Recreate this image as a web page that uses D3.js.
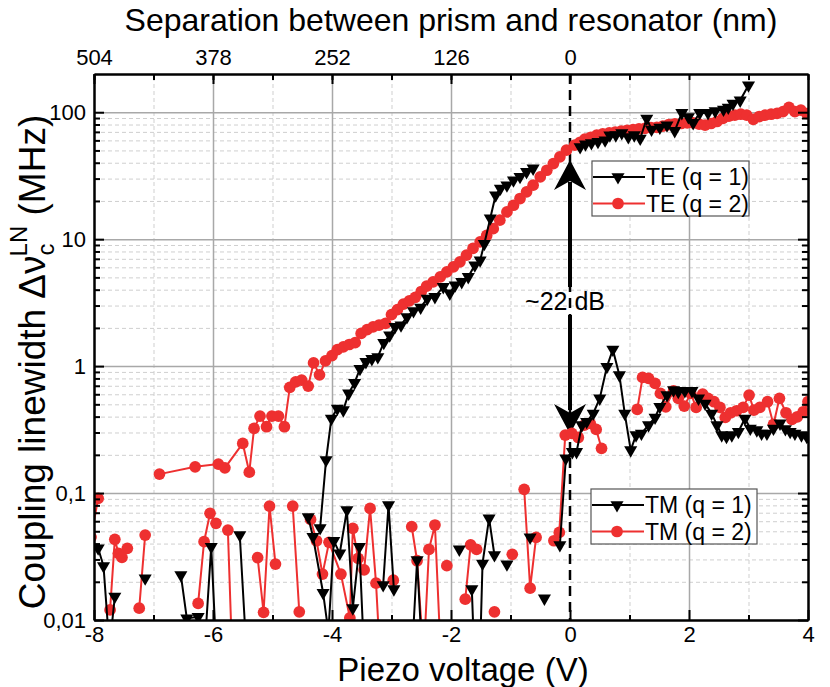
<!DOCTYPE html>
<html><head><meta charset="utf-8">
<script src="https://cdn.jsdelivr.net/npm/d3@7"></script>
<style>
body{margin:0;background:#fff;}
text{font-family:"Liberation Sans",Arial,sans-serif;}
</style></head>
<body><svg id="chart" width="830" height="687"></svg>
<script>
// ---------- data ----------
const xTicks = [-8,-6,-4,-2,0,2,4];
const xTickLabels = ["-8","-6","-4","-2","0","2","4"];
const topTickPos = [-8,-6,-4,-2,0];
const topTickLabels = ["504","378","252","126","0"];
const yTicks = [0.01,0.1,1,10,100];
const yTickLabels = ["0,01","0,1","1","10","100"];

// TE (q = 1): black triangles (null = gap)
const te1X = [-4.20,-4.10,-4.01,-3.91,-3.81,-3.72,-3.62,-3.53,-3.43,-3.33,-3.23,-3.13,-3.03,-2.94,-2.84,-2.74,-2.63,-2.51,-2.40,-2.27,-2.13,-2.02,-1.93,-1.82,-1.71,-1.60,-1.51,-1.44,-1.34,-1.25,-1.17,-1.06,-0.95,-0.84,-0.73,-0.62,null,
  0.17,0.26,0.36,0.47,0.59,0.67,0.77,0.87,0.98,1.08,1.18,1.29,1.37,1.51,1.63,1.76,1.88,1.99,2.07,2.18,2.32,2.44,2.58,2.66,2.74,2.86,3.00];
const te1Y = [0.053,0.182,0.387,0.464,0.45,0.61,0.74,0.953,1.08,1.14,1.18,1.53,1.75,2.04,2.1,2.44,2.72,2.9,3.4,3.51,4.21,3.74,4.34,4.61,5.05,6.24,6.83,9.2,14.6,22.2,25.1,26.6,29.1,31,33.9,36.1,null,
  53.3,56,57.3,58.5,60.2,65.9,66,68.7,63.9,66,62.1,89.2,73.1,75.7,79.0,71.3,98.8,91.8,82.4,98.8,98.8,102,105,109,117,124,163];

// TE (q = 2): red circles
const te2X = [-6.90,-6.30,-5.91,-5.80,-5.50,-5.39,-5.31,-5.21,-5.10,-5.01,-4.90,-4.80,-4.71,-4.61,-4.51,-4.40,-4.31,-4.21,-4.11,-4.00,-3.91,-3.81,-3.71,-3.61,-3.51,-3.41,-3.31,-3.21,-3.10,-3.00,-2.90,-2.80,-2.70,-2.60,-2.50,-2.41,-2.30,-2.18,-2.07,-1.96,-1.85,-1.74,-1.63,-1.51,-1.40,-1.29,-1.18,-1.06,-0.95,-0.84,-0.73,-0.62,-0.50,-0.39,-0.28,-0.17,-0.06,
  0.08,0.17,0.25,0.35,0.45,0.55,0.66,0.76,0.86,0.96,1.06,1.16,1.26,1.36,1.46,1.56,1.66,1.76,1.87,1.97,2.07,2.17,2.27,2.37,2.47,2.57,2.67,2.77,2.87,2.97,3.08,3.18,3.28,3.38,3.48,3.58,3.68,3.78,3.88,3.98];
const te2Y = [0.141,0.161,0.169,0.158,0.246,0.146,0.323,0.404,0.333,0.404,0.404,0.333,0.68,0.752,0.776,0.696,1.06,0.854,1.10,1.21,1.35,1.42,1.48,1.53,1.81,1.94,2.04,2.10,2.17,2.54,2.79,3.08,3.27,3.48,3.87,4.26,4.61,5.05,5.53,6.05,6.63,7.48,8.45,9.52,10.7,12.1,14.1,16.4,18.5,20.9,23.6,26.6,31.0,34.9,39.4,44.5,50.2,
  55.0,58,61.3,63.5,65.9,67.4,68.7,69.8,71,72.1,73,74,74.6,75.5,76.1,77.7,80,81,81.5,82.5,82.5,80.5,79,81.5,84.5,89.6,93,94.7,96.4,94.7,88,92.5,94.7,96.4,98,101,109,101,104,97.7];

// TM (q = 1): black triangles
const tm1X = [-7.93,-7.84,-7.74,-7.65,null,-7.14,null,-6.54,-6.44,-6.25,-6.14,-6.03,-5.94,null,-5.55,-5.42,null,
  -4.40,-4.32,-4.15,-4.06,-3.97,-3.87,-3.75,-3.65,-3.54,-3.45,null,-3.14,-3.05,-2.96,null,-2.67,-2.57,-2.47,null,-1.86,null,-1.65,-1.60,null,
  -1.52,-1.47,-1.36,-1.27,null,-1.06,null,-0.67,null,-0.43,null,
  -0.17,-0.07,0.04,0.11,0.20,0.28,0.39,0.50,0.62,0.72,0.83,0.92,1.02,1.11,1.20,1.32,1.43,1.51,1.63,1.74,1.82,1.93,2.05,2.16,2.27,2.38,2.47,2.55,2.63,2.72,2.83,2.94,3.03,3.14,3.22,3.31,3.42,3.53,3.62,3.70,3.78,3.89,3.98];
const tm1Y = [0.0367,0.0266,0.006,0.0153,null,0.0213,null,0.0226,0.0103,0.0106,0.006,0.0378,0.005,null,0.0467,0.004,null,
  0.0647,0.0453,0.0164,0.008,0.042,0.0335,0.0735,0.0124,0.0378,0.004,null,0.0189,0.0805,0.0175,null,0.004,0.0297,0.004,null,0.036,null,0.0175,0.004,null,
  0.004,0.0279,0.0632,0.0325,null,0.0275,null,0.0448,null,0.0148,null,
  0.039,0.1875,0.211,0.211,0.343,0.364,0.424,0.557,0.988,1.35,0.849,0.424,0.218,0.286,0.295,0.343,0.394,0.478,0.591,0.647,0.628,0.638,0.638,0.557,0.508,0.424,0.343,0.286,0.278,0.286,0.304,0.387,0.323,0.313,0.295,0.295,0.323,0.354,0.32,0.304,0.295,0.286,0.278];

// TM (q = 2): red circles
const tm2X = [-8.05,-7.93,null,-7.73,-7.65,-7.59,-7.53,-7.44,null,-7.24,-7.14,null,-6.25,-6.15,-6.05,-5.95,null,-5.75,-5.67,null,
  -5.25,-5.15,-5.05,-4.95,null,-4.66,-4.55,null,-4.36,-4.26,-4.16,-4.05,-3.85,-3.70,-3.65,-3.56,-3.46,-3.36,-3.26,-3.18,null,-2.97,null,
  -2.66,-2.57,-2.46,-2.37,-2.27,-2.17,null,-2.07,null,-1.76,-1.67,-1.57,null,-1.27,null,-0.97,null,-0.77,-0.67,-0.57,null,
  -0.27,-0.18,-0.08,0.03,0.14,0.24,0.34,0.44,0.53,null,
  1.13,1.22,1.32,1.43,1.52,1.61,1.74,1.82,1.92,2.03,2.12,2.23,2.32,2.42,2.52,2.61,2.70,2.80,2.91,3.01,3.09,3.19,3.32,3.42,3.52,3.63,3.73,3.82,3.92,4.00];
const tm2Y = [0.045,0.0908,null,0.012,0.0432,0.0335,0.0311,0.0367,null,0.0124,0.0467,null,0.0135,0.0414,0.0692,0.0577,null,0.0511,0.004,null,
  0.031,0.0115,0.079,0.0276,null,0.079,0.0116,null,0.062,0.0421,0.023,0.0409,0.023,0.0104,0.0527,0.0306,0.0248,0.0757,0.0195,0.004,null,0.0206,null,
  0.0543,0.0293,0.005,0.036,0.056,0.005,null,0.0268,null,0.0146,0.039,0.036,null,0.0116,null,0.0329,null,0.107,0.0178,0.0448,null,
  0.0421,0.049,0.286,0.295,0.274,0.343,0.354,0.317,0.225,null,
  0.456,0.815,0.80,0.731,0.61,0.478,0.638,0.557,0.484,0.61,0.473,0.602,0.557,0.524,0.473,0.394,0.429,0.445,0.473,0.591,0.45,0.473,0.524,0.347,0.557,0.429,0.38,0.399,0.437,0.524];

// ---------- layout ----------
const L = 94, R = 808, T = 74, B = 620;
const RED = "#ee3030";
const svg = d3.select("#chart");
const x = d3.scaleLinear().domain([-8,4]).range([L,R]);
const y = d3.scaleLog().domain([0.01,200]).range([B,T]);

svg.append("defs").append("clipPath").attr("id","clip")
  .append("rect").attr("x",L).attr("y",T).attr("width",R-L).attr("height",B-T);

const minorY = [];
[0.01,0.1,1,10].forEach(d => { for (let k=2;k<=9;k++) minorY.push(d*k); });
const majorX = [-6,-4,-2,2];
const minorX = [-7,-5,-3,-1,1,3];
const allX = d3.range(-8,5,1);

// grid
const grid = svg.append("g");
grid.append("g").attr("transform",`translate(${L},0)`)
  .call(d3.axisLeft(y).tickValues(minorY).tickSize(-(R-L)).tickFormat(""))
  .call(g => { g.select(".domain").remove(); g.selectAll("line").attr("stroke","#cfcfcf").attr("stroke-width",1).attr("stroke-dasharray","4,3"); });
grid.append("g").attr("transform",`translate(0,${B})`)
  .call(d3.axisBottom(x).tickValues(minorX).tickSize(-(B-T)).tickFormat(""))
  .call(g => { g.select(".domain").remove(); g.selectAll("line").attr("stroke","#cfcfcf").attr("stroke-width",1).attr("stroke-dasharray","4,3"); });
grid.append("g").attr("transform",`translate(${L},0)`)
  .call(d3.axisLeft(y).tickValues([0.1,1,10,100]).tickSize(-(R-L)).tickFormat(""))
  .call(g => { g.select(".domain").remove(); g.selectAll("line").attr("stroke","#a8a8a8").attr("stroke-width",1.5); });
grid.append("g").attr("transform",`translate(0,${B})`)
  .call(d3.axisBottom(x).tickValues(majorX).tickSize(-(B-T)).tickFormat(""))
  .call(g => { g.select(".domain").remove(); g.selectAll("line").attr("stroke","#a8a8a8").attr("stroke-width",1.5); });

// dashed zero line
svg.append("line").attr("x1",x(0)).attr("x2",x(0)).attr("y1",T).attr("y2",B)
  .attr("stroke","#000").attr("stroke-width",2.5).attr("stroke-dasharray","10,6");

// arrows
function arrowHead(tipY, dir) {
  const cx = x(0), hw = 16, hl = 30, notch = 9;
  const by = tipY - dir*hl;
  return `M${cx},${tipY} L${cx+hw},${by} L${cx},${by+dir*notch} L${cx-hw},${by} Z`;
}
svg.append("line").attr("x1",x(0)).attr("x2",x(0)).attr("y1",287).attr("y2",182).attr("stroke","#000").attr("stroke-width",4);
svg.append("path").attr("d",arrowHead(160,-1)).attr("fill","#000");
svg.append("line").attr("x1",x(0)).attr("x2",x(0)).attr("y1",315).attr("y2",410).attr("stroke","#000").attr("stroke-width",4);
svg.append("path").attr("d",arrowHead(434,1)).attr("fill","#000");
svg.append("text").attr("x",565).attr("y",310).attr("text-anchor","middle").attr("font-size",25).text("~22 dB");

// series
const plot = svg.append("g").attr("clip-path","url(#clip)");
const tri = d3.symbol().type(d3.symbolTriangle).size(74);
const circ = d3.symbol().type(d3.symbolCircle).size(108);
function series(xs, ys, color, isTri) {
  const pts = xs.map((v,i) => ({x:v, y:ys[i]}));
  const line = d3.line().defined(d => d.x != null && d.y != null).x(d => x(d.x)).y(d => y(d.y));
  plot.append("path").datum(pts).attr("d",line).attr("fill","none").attr("stroke",color).attr("stroke-width",2);
  plot.append("g").selectAll("path").data(pts.filter(d => d.x != null && d.y != null)).join("path")
    .attr("transform", d => `translate(${x(d.x)},${y(d.y)})` + (isTri ? " rotate(180)" : ""))
    .attr("d", isTri ? tri : circ).attr("fill",color);
}
series(tm2X, tm2Y, RED, false);
series(tm1X, tm1Y, "#000", true);
series(te2X, te2Y, RED, false);
series(te1X, te1Y, "#000", true);

// axes
const axW = 2;
function styleAx(g){ g.select(".domain").attr("stroke","#000").attr("stroke-width",axW); g.selectAll(".tick line").attr("stroke","#000").attr("stroke-width",axW); g.selectAll("text").attr("font-size",22).attr("fill","#000").attr("font-family",'"Liberation Sans",Arial,sans-serif'); }
svg.append("g").attr("transform",`translate(${L},0)`)
  .call(d3.axisLeft(y).tickValues(minorY).tickSize(-6).tickSizeOuter(0).tickFormat("")).call(styleAx);
svg.append("g").attr("transform",`translate(${L},0)`)
  .call(d3.axisLeft(y).tickValues(yTicks).tickSize(-10).tickSizeOuter(0).tickPadding(8).tickFormat((d,i)=>yTickLabels[i])).call(styleAx);
svg.append("g").attr("transform",`translate(${R},0)`)
  .call(d3.axisRight(y).tickValues(minorY).tickSize(-6).tickSizeOuter(0).tickFormat("")).call(styleAx);
svg.append("g").attr("transform",`translate(${R},0)`)
  .call(d3.axisRight(y).tickValues(yTicks).tickSize(-10).tickSizeOuter(0).tickFormat("")).call(styleAx);
svg.append("g").attr("transform",`translate(0,${B})`)
  .call(d3.axisBottom(x).tickValues(minorX).tickSize(-5).tickSizeOuter(0).tickFormat("")).call(styleAx);
svg.append("g").attr("transform",`translate(0,${B})`)
  .call(d3.axisBottom(x).tickValues(xTicks).tickSize(-10).tickSizeOuter(0).tickPadding(6).tickFormat((d,i)=>xTickLabels[i])).call(styleAx);
svg.append("g").attr("transform",`translate(0,${T})`)
  .call(d3.axisTop(x).tickValues(allX).tickSize(-6).tickSizeOuter(0).tickFormat("")).call(styleAx);
svg.append("g").attr("transform",`translate(0,${T})`)
  .call(d3.axisTop(x).tickValues(topTickPos).tickSize(-10).tickSizeOuter(0).tickPadding(9).tickFormat((d,i)=>topTickLabels[i])).call(styleAx);

// titles
svg.append("text").attr("x",463).attr("y",681).attr("text-anchor","middle").attr("font-size",33).text("Piezo voltage (V)");
svg.append("text").attr("x",451).attr("y",31).attr("text-anchor","middle").attr("font-size",32).text("Separation between prism and resonator (nm)");
const yl = svg.append("text").attr("transform","translate(45,362) rotate(-90)").attr("text-anchor","middle").attr("font-size",37);
yl.append("tspan").text("Coupling linewidth \u0394\u03bd");
yl.append("tspan").attr("font-size",24).attr("dy",9).text("c");
yl.append("tspan").attr("font-size",24).attr("dx",-13).attr("dy",-27).text("LN");
yl.append("tspan").attr("dy",18).text(" (MHz)");

// legends
function legend(x0,y0,w,h,items){
  const g = svg.append("g");
  g.append("rect").attr("x",x0).attr("y",y0).attr("width",w).attr("height",h).attr("fill","#fff").attr("stroke","#555").attr("stroke-width",1.2);
  items.forEach((it,i)=>{
    const cy = y0 + 16 + i*26.5;
    g.append("line").attr("x1",x0+1).attr("x2",x0+53).attr("y1",cy).attr("y2",cy).attr("stroke",it.c).attr("stroke-width",2);
    g.append("path").attr("transform",`translate(${x0+26},${cy})`+(it.t?" rotate(180)":"")).attr("d",it.t?tri:circ).attr("fill",it.c);
    g.append("text").attr("x",x0+54).attr("y",cy+8).attr("font-size",23).text(it.label);
  });
}
legend(592,161,157,55,[{c:"#000",t:true,label:"TE (q = 1)"},{c:RED,t:false,label:"TE (q = 2)"}]);
legend(591,489,166,55,[{c:"#000",t:true,label:"TM (q = 1)"},{c:RED,t:false,label:"TM (q = 2)"}]);
</script></body></html>
